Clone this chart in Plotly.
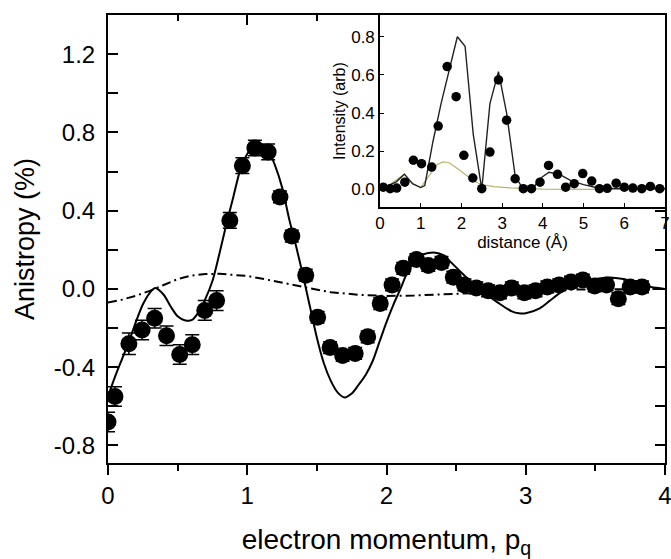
import plotly.graph_objects as go

# ---------------- main panel data ----------------
p_data = [0.0, 0.05, 0.15, 0.245, 0.335, 0.42, 0.515, 0.605, 0.695, 0.78,
          0.875, 0.965, 1.055, 1.15, 1.235, 1.32, 1.42, 1.505, 1.595, 1.685,
          1.775, 1.865, 1.955, 2.04, 2.12, 2.215, 2.30, 2.395, 2.48, 2.56,
          2.645, 2.73, 2.815, 2.90, 2.99, 3.07, 3.155, 3.24, 3.325, 3.41,
          3.495, 3.58, 3.665, 3.75, 3.835]
aniso_data = [-0.68, -0.55, -0.28, -0.21, -0.15, -0.24, -0.335, -0.285, -0.11, -0.06,
              0.35, 0.63, 0.72, 0.70, 0.47, 0.27, 0.07, -0.145, -0.30, -0.34,
              -0.33, -0.245, -0.075, 0.02, 0.105, 0.15, 0.12, 0.135, 0.06, 0.02,
              0.005, -0.01, -0.02, 0.005, -0.02, -0.01, 0.01, 0.02, 0.035, 0.045,
              0.015, 0.02, -0.05, 0.01, 0.01]
aniso_err = [0.05, 0.05, 0.055, 0.05, 0.05, 0.05, 0.05, 0.05, 0.05, 0.05,
             0.04, 0.04, 0.04, 0.04, 0.03, 0.03, 0.03, 0.03, 0.03, 0.03,
             0.03, 0.03, 0.03, 0.03, 0.03, 0.03, 0.03, 0.03, 0.03, 0.03,
             0.03, 0.03, 0.03, 0.03, 0.03, 0.03, 0.03, 0.03, 0.03, 0.03,
             0.03, 0.03, 0.03, 0.03, 0.03]

p_model = [0, 0.05, 0.1, 0.15, 0.2, 0.25, 0.3, 0.34, 0.4, 0.45, 0.5, 0.55, 0.6, 0.65,
           0.7, 0.75, 0.8, 0.85, 0.9, 0.95, 1.0, 1.05, 1.1, 1.15, 1.2, 1.25, 1.3,
           1.35, 1.4, 1.45, 1.5, 1.55, 1.6, 1.65, 1.7, 1.75, 1.8, 1.85, 1.9, 1.95,
           2.0, 2.05, 2.1, 2.15, 2.2, 2.25, 2.3, 2.35, 2.4, 2.5, 2.6, 2.7, 2.8, 2.9,
           2.95, 3.0, 3.1, 3.2, 3.3, 3.4, 3.5, 3.6, 3.7, 3.8, 3.9, 4.0]
aniso_model = [-0.55, -0.45, -0.36, -0.27, -0.17, -0.08, -0.02, 0.005, -0.03, -0.09,
               -0.14, -0.16, -0.16, -0.12, -0.05, 0.04, 0.18, 0.33, 0.47, 0.61,
               0.69, 0.735, 0.74, 0.71, 0.63, 0.52, 0.36, 0.22, 0.07, -0.09,
               -0.25, -0.38, -0.47, -0.53, -0.555, -0.535, -0.49, -0.44, -0.37, -0.27,
               -0.17, -0.08, 0.0, 0.085, 0.14, 0.17, 0.183, 0.185, 0.175, 0.11,
               0.04, -0.02, -0.07, -0.115, -0.125, -0.125, -0.1, -0.045, 0.005, 0.03,
               0.05, 0.058, 0.05, 0.03, 0.01, 0.0]

p_dashdot = [0, 0.1, 0.2, 0.3, 0.4, 0.5, 0.6, 0.7, 0.8, 0.9, 1.0, 1.1, 1.2, 1.3, 1.4,
             1.5, 1.6, 1.8, 2.0, 2.2, 2.4, 2.6, 2.8, 3.0, 3.2, 3.4, 3.6, 3.8, 4.0]
aniso_dashdot = [-0.07, -0.055, -0.035, -0.01, 0.02, 0.05, 0.068, 0.076, 0.077, 0.073,
                 0.066, 0.053, 0.04, 0.025, 0.01, -0.005, -0.017, -0.03, -0.036, -0.034,
                 -0.028, -0.02, -0.014, -0.009, -0.005, -0.003, -0.001, 0.0, 0.0]

y_tickvals = [-0.8, -0.4, 0.0, 0.4, 0.8, 1.2]
y_ticktext = ["-0.8", "-0.4", "0.0", "0.4", "0.8", "1.2"]

# ---------------- inset data ----------------
d_data = [0.08, 0.25, 0.41, 0.61, 0.82, 1.02, 1.27, 1.43, 1.65, 1.87, 2.06, 2.28,
          2.50, 2.70, 2.91, 3.11, 3.32, 3.52, 3.72, 3.93, 4.14, 4.36, 4.56, 4.77,
          4.98, 5.20, 5.39, 5.58, 5.80, 6.00, 6.21, 6.43, 6.64, 6.87]
int_data = [0.012, 0.004, 0.007, 0.038, 0.153, 0.135, 0.117, 0.332, 0.644, 0.486,
            0.179, 0.06, 0.004, 0.196, 0.574, 0.363, 0.056, 0.004, 0.004, 0.038,
            0.126, 0.079, 0.012, 0.03, 0.083, 0.044, 0.004, 0.006, 0.033, 0.012,
            0.007, 0.004, 0.016, 0.004]

d_model = [0, 0.2, 0.4, 0.6, 0.8, 1.0, 1.1, 1.3, 1.5, 1.7, 1.9, 2.09, 2.29, 2.5,
           2.7, 2.91, 3.11, 3.32, 3.52, 3.75, 3.95, 4.15, 4.4, 4.7, 5.0, 5.3, 5.6,
           6.0, 6.5, 7.0]
int_model = [0.02, 0.02, 0.04, 0.08, 0.03, 0.01, 0.02, 0.25, 0.45, 0.63, 0.80, 0.75,
             0.29, 0.0, 0.45, 0.617, 0.40, 0.07, 0.0, 0.005, 0.06, 0.09, 0.08, 0.045,
             0.025, 0.01, 0.005, 0.005, 0.005, 0.005]

d_thin = [0, 0.2, 0.4, 0.6, 0.8, 1.0, 1.2, 1.4, 1.55, 1.7, 1.9, 2.1, 2.3, 2.5, 2.8,
          3.2, 3.6, 4.0, 5.0, 6.0, 7.0]
int_thin = [0.02, 0.02, 0.05, 0.08, 0.03, 0.01, 0.07, 0.13, 0.144, 0.14, 0.11, 0.075,
            0.045, 0.025, 0.015, 0.008, 0.004, 0.002, 0.0, 0.0, 0.0]
inset_ytickvals = [0.0, 0.2, 0.4, 0.6, 0.8]
inset_yticktext = ["0.0", "0.2", "0.4", "0.6", "0.8"]

FONT = "Liberation Sans, Arial, Helvetica, sans-serif"

fig = go.Figure()

# main panel
fig.add_trace(go.Scatter(x=p_dashdot, y=aniso_dashdot, mode="lines",
                         line=dict(color="black", width=2, dash="9px,4px,2px,4px"),
                         showlegend=False, xaxis="x", yaxis="y"))
fig.add_trace(go.Scatter(x=p_model, y=aniso_model, mode="lines",
                         line=dict(color="black", width=2, shape="spline", smoothing=0.8),
                         showlegend=False, xaxis="x", yaxis="y"))
fig.add_trace(go.Scatter(x=p_data, y=aniso_data, mode="markers",
                         marker=dict(color="black", size=17),
                         error_y=dict(type="data", array=aniso_err, color="black",
                                      thickness=1.5, width=7),
                         cliponaxis=True,
                         showlegend=False, xaxis="x", yaxis="y"))
# empty trace so the top tick axis is drawn
fig.add_trace(go.Scatter(x=[], y=[], xaxis="x3", yaxis="y", showlegend=False))

# inset
fig.add_trace(go.Scatter(x=d_thin, y=int_thin, mode="lines",
                         line=dict(color="#bdb36a", width=1.2),
                         showlegend=False, xaxis="x2", yaxis="y2"))
fig.add_trace(go.Scatter(x=d_model, y=int_model, mode="lines",
                         line=dict(color="#222222", width=1.4),
                         showlegend=False, xaxis="x2", yaxis="y2"))
fig.add_trace(go.Scatter(x=d_data, y=int_data, mode="markers",
                         marker=dict(color="black", size=9.5),
                         showlegend=False, xaxis="x2", yaxis="y2"))

fig.update_layout(
    template="none",
    width=671, height=559,
    margin=dict(l=108, r=6, t=15, b=96, autoexpand=False),
    paper_bgcolor="white", plot_bgcolor="white",
    font=dict(family=FONT, color="black"),
    xaxis=dict(domain=[0, 1], range=[0, 4], dtick=1, tick0=0, automargin=False,
               ticklabeloverflow="allow",
               showline=True, linecolor="black", linewidth=2, mirror=True,
               ticks="outside", ticklen=10, tickwidth=2, tickcolor="black",
               minor=dict(dtick=0.5, tick0=0, ticks="outside", ticklen=6,
                          tickwidth=1.5, tickcolor="black"),
               showgrid=False, zeroline=False,
               tickfont=dict(size=24),
               title=dict(text="electron momentum, p<sub>q</sub>",
                          font=dict(size=28), standoff=22)),
    xaxis3=dict(overlaying="x", side="top", matches="x", range=[0, 4], dtick=1, tick0=0,
                anchor="y", showline=False, showticklabels=False, automargin=False,
                ticks="inside", ticklen=10, tickwidth=2, tickcolor="black",
                minor=dict(dtick=0.5, tick0=0, ticks="inside", ticklen=6,
                           tickwidth=1.5, tickcolor="black"),
                showgrid=False, zeroline=False),
    yaxis=dict(domain=[0, 1], range=[-0.89, 1.4], automargin=False,
               ticklabeloverflow="allow",
               tickmode="array", tickvals=y_tickvals, ticktext=y_ticktext,
               showline=True, linecolor="black", linewidth=2, mirror="allticks",
               ticks="inside", ticklen=10, tickwidth=2, tickcolor="black",
               minor=dict(dtick=0.2, tick0=0, ticks="inside", ticklen=6,
                          tickwidth=1.5, tickcolor="black"),
               showgrid=False, zeroline=False,
               tickfont=dict(size=24), ticklabelstandoff=6,
               title=dict(text="Anistropy (%)", font=dict(size=27), standoff=11)),
    xaxis2=dict(domain=[0.4883, 1], range=[0, 7], dtick=1, tick0=0, anchor="y2",
                automargin=False, ticklabeloverflow="allow",
                showline=True, linecolor="black", linewidth=1.5, mirror=True,
                ticks="inside", ticklen=4, tickwidth=1.2, tickcolor="black",
                showgrid=False, zeroline=False,
                tickfont=dict(size=17),
                title=dict(text="distance (Å)", font=dict(size=17), standoff=2)),
    yaxis2=dict(domain=[0.571, 1], range=[-0.093, 0.914], anchor="x2",
                automargin=False, ticklabeloverflow="allow",
                tickmode="array", tickvals=inset_ytickvals, ticktext=inset_yticktext,
                showline=True, linecolor="black", linewidth=1.5, mirror=True,
                ticks="inside", ticklen=4, tickwidth=1.2, tickcolor="black",
                showgrid=False, zeroline=False,
                tickfont=dict(size=17),
                title=dict(text="Intensity (arb)", font=dict(size=16), standoff=2)),
)

fig.write_html("out.html")
